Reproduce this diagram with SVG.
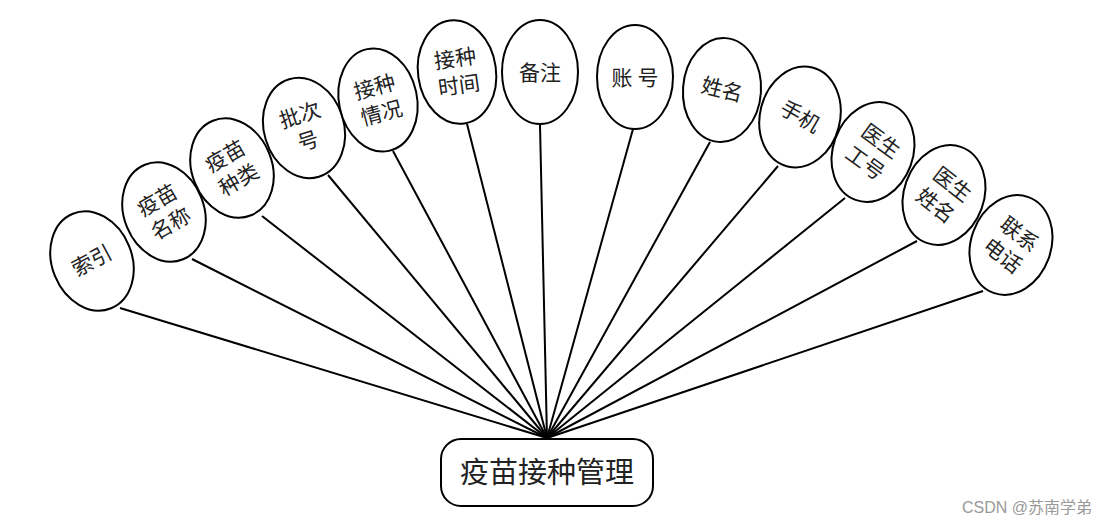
<svg xmlns="http://www.w3.org/2000/svg" width="1107" height="525" viewBox="0 0 1107 525">
<style>
.e{fill:#fff;stroke:#000;stroke-width:2}
.t{font-family:"Liberation Serif","Noto Sans CJK SC",serif;font-size:21px;fill:#222;text-anchor:middle;dominant-baseline:central}
.c{stroke:#000;stroke-width:2;fill:none}
</style>
<rect width="1107" height="525" fill="#fff"/>
<g id="connectors">
<line class="c" x1="120" y1="308" x2="547" y2="438"/>
<line class="c" x1="192" y1="259" x2="547" y2="438"/>
<line class="c" x1="262" y1="216" x2="547" y2="438"/>
<line class="c" x1="328" y1="175" x2="547" y2="438"/>
<line class="c" x1="393" y1="151" x2="547" y2="438"/>
<line class="c" x1="467" y1="124" x2="547" y2="438"/>
<line class="c" x1="540" y1="125" x2="547" y2="438"/>
<line class="c" x1="633" y1="129" x2="547" y2="438"/>
<line class="c" x1="710" y1="142" x2="547" y2="438"/>
<line class="c" x1="778" y1="166" x2="547" y2="438"/>
<line class="c" x1="845" y1="198" x2="547" y2="438"/>
<line class="c" x1="917" y1="241" x2="547" y2="438"/>
<line class="c" x1="983" y1="291" x2="547" y2="438"/>
</g>
<g id="n1" transform="translate(92,261)"><ellipse class="e" rx="40" ry="51" transform="rotate(-22)"/><text class="t" transform="rotate(-28)">索引</text></g>
<g id="n2" transform="translate(164,212)"><ellipse class="e" rx="40" ry="51" transform="rotate(-22)"/><text class="t" transform="rotate(-30)"><tspan x="0" y="-13">疫苗</tspan><tspan x="0" y="14">名称</tspan></text></g>
<g id="n3" transform="translate(232,168)"><ellipse class="e" rx="40" ry="51" transform="rotate(-22)"/><text class="t" transform="rotate(-30)"><tspan x="0" y="-13">疫苗</tspan><tspan x="0" y="14">种类</tspan></text></g>
<g id="n4" transform="translate(304,128)"><ellipse class="e" rx="40" ry="51" transform="rotate(-17)"/><text class="t" transform="rotate(-18)"><tspan x="0" y="-13">批次</tspan><tspan x="0" y="14">号</tspan></text></g>
<g id="n5" transform="translate(378,100)"><ellipse class="e" rx="39" ry="52" transform="rotate(-12)"/><text class="t" transform="rotate(-15)"><tspan x="0" y="-13">接种</tspan><tspan x="0" y="14">情况</tspan></text></g>
<g id="n6" transform="translate(457,72)"><ellipse class="e" rx="39" ry="52" transform="rotate(-8)"/><text class="t" transform="rotate(-8)"><tspan x="0" y="-13">接种</tspan><tspan x="0" y="14">时间</tspan></text></g>
<g id="n7" transform="translate(540,72)"><ellipse class="e" rx="38" ry="52"/><text class="t" y="1">备注</text></g>
<g id="n8" transform="translate(635,77)"><ellipse class="e" rx="38" ry="52"/><text class="t" y="1">账 号</text></g>
<g id="n9" transform="translate(722,90)"><ellipse class="e" rx="39" ry="52" transform="rotate(4)"/><text class="t" transform="rotate(14)">姓名</text></g>
<g id="n10" transform="translate(800,117)"><ellipse class="e" rx="40" ry="51" transform="rotate(14)"/><text class="t" transform="rotate(30)">手机</text></g>
<g id="n11" transform="translate(873,152)"><ellipse class="e" rx="40" ry="51" transform="rotate(20)"/><text class="t" transform="rotate(36)"><tspan x="0" y="-13">医生</tspan><tspan x="0" y="14">工号</tspan></text></g>
<g id="n12" transform="translate(944,195)"><ellipse class="e" rx="40" ry="51" transform="rotate(20)"/><text class="t" transform="rotate(38)"><tspan x="0" y="-13">医生</tspan><tspan x="0" y="14">姓名</tspan></text></g>
<g id="n13" transform="translate(1011,245)"><ellipse class="e" rx="40" ry="51" transform="rotate(20)"/><text class="t" transform="rotate(38)"><tspan x="0" y="-13">联系</tspan><tspan x="0" y="14">电话</tspan></text></g>
<g id="center"><rect class="e" x="441" y="439" width="212" height="67" rx="20"/><text class="t" x="547" y="473" style="font-size:29px">疫苗接种管理</text></g>
<text x="1092" y="513" style="font-family:'Liberation Sans','Noto Sans CJK SC',sans-serif;font-size:16px;fill:#999;text-anchor:end">CSDN @苏南学弟</text>
</svg>
